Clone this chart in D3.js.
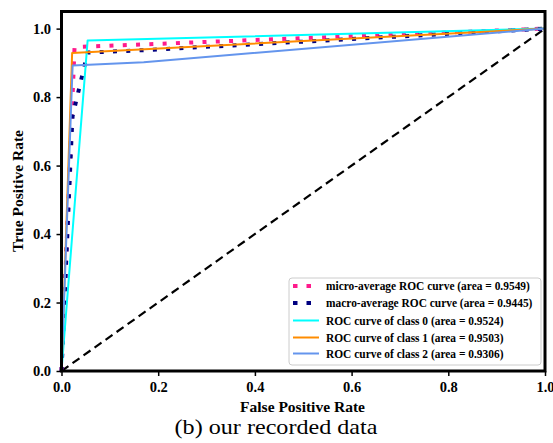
<!DOCTYPE html>
<html><head><meta charset="utf-8">
<script src="https://cdn.jsdelivr.net/npm/d3@7/dist/d3.min.js"></script>
<style>body{margin:0;background:#fff}svg{display:block}</style>
</head><body>
<script>
// Data
const microFpr = [0, 0.027, 1];
const microTpr = [0, 0.946, 1];
const macroFpr = [0, 0.022, 0.023, 0.054, 0.17, 1];
const macroTpr = [0, 0.725, 0.745, 0.930, 0.937, 1];
const c0Fpr = [0, 0.054, 1];
const c0Tpr = [0, 0.965, 1];
const c1Fpr = [0, 0.022, 1];
const c1Tpr = [0, 0.929, 1];
const c2Fpr = [0, 0.023, 0.17, 1];
const c2Tpr = [0, 0.892, 0.902, 1];
const xTicks = [0, 0.2, 0.4, 0.6, 0.8, 1.0];
const yTicks = [0, 0.2, 0.4, 0.6, 0.8, 1.0];
const legendLabels = [
  "micro-average ROC curve (area = 0.9549)",
  "macro-average ROC curve (area = 0.9445)",
  "ROC curve of class 0 (area = 0.9524)",
  "ROC curve of class 1 (area = 0.9503)",
  "ROC curve of class 2 (area = 0.9306)"
];

const W = 553, H = 443;
const svg = d3.select("body").append("svg").attr("width", W).attr("height", H);
const L = 61.5, R = 545, T = 11.5, B = 371;
const x = d3.scaleLinear().domain([0, 1]).range([L, R]);
const y = d3.scaleLinear().domain([0, 1.05]).range([B, T]);
const serif = "'Liberation Serif','Times New Roman',serif";

// stretch a text horizontally (about its anchor x) so that it spans a target width
function fitX(sel, ax, ay, target, rot) {
  const len = sel.node().getComputedTextLength();
  const k = target / len;
  sel.attr("x", 0).attr("y", 0)
     .attr("transform", rot ? `translate(${ax},${ay}) rotate(-90) scale(${k},1)` : `translate(${ax},${ay}) scale(${k},1)`);
  return k;
}

const series = [
  {fpr: microFpr, tpr: microTpr, color: "#ff1a8c", w: 4, dash: "4,9.3"},
  {fpr: macroFpr, tpr: macroTpr, color: "#000080", w: 4, dash: "4,9.3"},
  {fpr: c0Fpr, tpr: c0Tpr, color: "#00ffff", w: 2, dash: null},
  {fpr: c1Fpr, tpr: c1Tpr, color: "#ff8c00", w: 2, dash: null},
  {fpr: c2Fpr, tpr: c2Tpr, color: "#6495ed", w: 2, dash: null}
];
const line = d3.line().x(d => x(d[0])).y(d => y(d[1]));

// diagonal
svg.append("path").attr("d", line([[0,0],[1,1]]))
  .attr("fill","none").attr("stroke","#000").attr("stroke-width",2.2).attr("stroke-dasharray","8.5,5");

series.forEach(s => {
  svg.append("path").attr("d", line(s.fpr.map((f,i)=>[f, s.tpr[i]])))
    .attr("fill","none").attr("stroke", s.color).attr("stroke-width", s.w)
    .attr("stroke-dasharray", s.dash).attr("stroke-linejoin","round");
});

// axes
const xa = svg.append("g").attr("transform",`translate(0,${B})`)
  .call(d3.axisBottom(x).tickValues(xTicks).tickFormat(d3.format(".1f")).tickSize(5).tickPadding(6));
const ya = svg.append("g").attr("transform",`translate(${L},0)`)
  .call(d3.axisLeft(y).tickValues(yTicks).tickFormat(d3.format(".1f")).tickSize(5).tickPadding(5.5));
[xa, ya].forEach(g => {
  g.attr("font-family", serif);
  g.select(".domain").remove();
  g.selectAll("line").attr("stroke","#000").attr("stroke-width",1.5);
  g.selectAll("text").attr("font-family", serif).attr("font-weight","bold").attr("font-size",14.5).attr("fill","#000");
});

// frame
svg.append("rect").attr("x", L).attr("y", T).attr("width", R-L).attr("height", B-T)
  .attr("fill","none").attr("stroke","#000").attr("stroke-width",3);

// labels
const xl = svg.append("text").attr("text-anchor","middle")
  .attr("font-family", serif).attr("font-weight","bold").attr("font-size",15).text("False Positive Rate");
fitX(xl, 302.5, 412, 125);
const yl = svg.append("text").attr("text-anchor","middle")
  .attr("font-family", serif).attr("font-weight","bold").attr("font-size",15).text("True Positive Rate");
fitX(yl, 22.5, 191, 122, true);
const cap = svg.append("text").attr("text-anchor","middle")
  .attr("font-family", serif).attr("font-size",21).text("(b) our recorded data");
fitX(cap, 276, 434, 203);

// legend
const lg = svg.append("g");
lg.append("rect").attr("x", 289).attr("y", 278).attr("width", 252).attr("height", 87)
  .attr("rx", 3).attr("fill","#fff").attr("fill-opacity",0.85).attr("stroke","#ccc").attr("stroke-width",1);
const rowY = [286, 303, 320.5, 337.5, 353.5];
let kLeg = null;
series.forEach((s, i) => {
  lg.append("line").attr("x1", 293).attr("x2", 319).attr("y1", rowY[i]).attr("y2", rowY[i])
    .attr("stroke", s.color).attr("stroke-width", s.w).attr("stroke-dasharray", s.dash ? "4.5,9" : null);
  const t = lg.append("text")
    .attr("font-family", serif).attr("font-weight","bold").attr("font-size",11.5).text(legendLabels[i]);
  if (kLeg === null) kLeg = 204 / t.node().getComputedTextLength();
  t.attr("transform", `translate(326,${rowY[i] + 4}) scale(${kLeg},1)`);
});
</script>
</body></html>
